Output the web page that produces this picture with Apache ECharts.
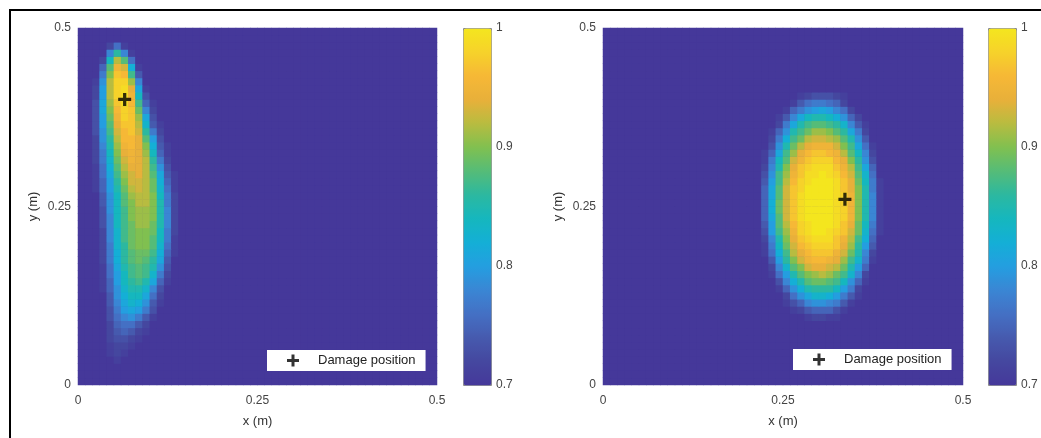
<!DOCTYPE html>
<html>
<head>
<meta charset="utf-8">
<script src="https://cdn.jsdelivr.net/npm/echarts@6/dist/echarts.min.js"></script>
<style>
  html, body { margin: 0; padding: 0; background: #fff; }
  #chart { width: 1041px; height: 438px; }
</style>
</head>
<body>
<div id="chart"></div>
<script>
// plate is 0.5 m square, sampled on a 50 x 50 grid (0.01 m cells)
const cellCount = 50
const background = 0.7

// left map: rows from y index 47 downwards, columns from x index 2
const leftRowTop = 47
const leftCol0 = 2
const leftField = [
  [0.70,0.70,0.72,0.76,0.71,0.70,0.70,0.70,0.70,0.70,0.70,0.70,0.70],
  [0.70,0.70,0.78,0.86,0.78,0.71,0.70,0.70,0.70,0.70,0.70,0.70,0.70],
  [0.70,0.72,0.84,0.92,0.88,0.76,0.70,0.70,0.70,0.70,0.70,0.70,0.70],
  [0.70,0.75,0.88,0.95,0.93,0.82,0.71,0.70,0.70,0.70,0.70,0.70,0.70],
  [0.70,0.77,0.90,0.97,0.96,0.87,0.74,0.70,0.70,0.70,0.70,0.70,0.70],
  [0.71,0.79,0.92,0.98,0.98,0.91,0.78,0.70,0.70,0.70,0.70,0.70,0.70],
  [0.72,0.80,0.92,0.98,0.99,0.94,0.81,0.71,0.70,0.70,0.70,0.70,0.70],
  [0.72,0.80,0.92,0.98,0.99,0.95,0.84,0.73,0.70,0.70,0.70,0.70,0.70],
  [0.73,0.81,0.91,0.97,0.99,0.96,0.87,0.75,0.71,0.70,0.70,0.70,0.70],
  [0.73,0.81,0.90,0.96,0.98,0.97,0.89,0.78,0.72,0.70,0.70,0.70,0.70],
  [0.73,0.80,0.89,0.95,0.98,0.97,0.91,0.81,0.73,0.70,0.70,0.70,0.70],
  [0.73,0.80,0.88,0.94,0.97,0.97,0.92,0.83,0.74,0.71,0.70,0.70,0.70],
  [0.73,0.79,0.87,0.93,0.96,0.97,0.93,0.86,0.77,0.72,0.70,0.70,0.70],
  [0.72,0.79,0.86,0.92,0.96,0.96,0.94,0.88,0.80,0.73,0.70,0.70,0.70],
  [0.72,0.78,0.85,0.91,0.95,0.96,0.94,0.90,0.82,0.74,0.71,0.70,0.70],
  [0.72,0.77,0.84,0.90,0.94,0.95,0.94,0.91,0.84,0.75,0.71,0.70,0.70],
  [0.72,0.77,0.83,0.89,0.93,0.95,0.94,0.92,0.86,0.77,0.72,0.70,0.70],
  [0.71,0.76,0.82,0.88,0.92,0.94,0.94,0.92,0.87,0.79,0.73,0.70,0.70],
  [0.71,0.76,0.81,0.87,0.91,0.93,0.94,0.92,0.88,0.81,0.74,0.71,0.70],
  [0.71,0.75,0.80,0.86,0.90,0.93,0.93,0.92,0.89,0.82,0.75,0.71,0.70],
  [0.71,0.75,0.80,0.85,0.89,0.92,0.93,0.92,0.89,0.83,0.76,0.71,0.70],
  [0.70,0.74,0.79,0.84,0.88,0.91,0.92,0.92,0.90,0.84,0.77,0.72,0.70],
  [0.70,0.74,0.79,0.84,0.88,0.90,0.92,0.92,0.90,0.85,0.77,0.72,0.70],
  [0.70,0.73,0.79,0.84,0.87,0.90,0.91,0.91,0.90,0.85,0.78,0.72,0.70],
  [0.70,0.73,0.78,0.84,0.87,0.90,0.91,0.91,0.90,0.85,0.78,0.72,0.70],
  [0.70,0.73,0.78,0.84,0.87,0.89,0.91,0.91,0.89,0.85,0.78,0.72,0.70],
  [0.70,0.72,0.78,0.83,0.87,0.89,0.90,0.90,0.89,0.84,0.77,0.72,0.70],
  [0.70,0.72,0.78,0.83,0.87,0.89,0.90,0.90,0.88,0.84,0.77,0.71,0.70],
  [0.70,0.72,0.77,0.83,0.86,0.89,0.90,0.90,0.88,0.83,0.76,0.71,0.70],
  [0.70,0.72,0.77,0.82,0.86,0.88,0.89,0.89,0.87,0.82,0.75,0.71,0.70],
  [0.70,0.72,0.77,0.82,0.86,0.88,0.89,0.88,0.86,0.81,0.74,0.70,0.70],
  [0.70,0.71,0.76,0.81,0.85,0.87,0.88,0.87,0.85,0.79,0.73,0.70,0.70],
  [0.70,0.71,0.76,0.80,0.84,0.87,0.88,0.87,0.83,0.77,0.72,0.70,0.70],
  [0.70,0.71,0.75,0.80,0.84,0.86,0.87,0.85,0.81,0.75,0.71,0.70,0.70],
  [0.70,0.71,0.75,0.79,0.83,0.85,0.85,0.83,0.78,0.73,0.70,0.70,0.70],
  [0.70,0.70,0.74,0.79,0.82,0.84,0.84,0.81,0.76,0.72,0.70,0.70,0.70],
  [0.70,0.70,0.74,0.78,0.81,0.83,0.82,0.79,0.74,0.71,0.70,0.70,0.70],
  [0.70,0.70,0.73,0.77,0.80,0.81,0.80,0.77,0.73,0.70,0.70,0.70,0.70],
  [0.70,0.70,0.73,0.76,0.78,0.79,0.77,0.74,0.71,0.70,0.70,0.70,0.70],
  [0.70,0.70,0.72,0.75,0.76,0.76,0.74,0.72,0.70,0.70,0.70,0.70,0.70],
  [0.70,0.70,0.72,0.74,0.75,0.74,0.72,0.71,0.70,0.70,0.70,0.70,0.70],
  [0.70,0.70,0.72,0.73,0.73,0.72,0.71,0.70,0.70,0.70,0.70,0.70,0.70],
  [0.70,0.70,0.71,0.72,0.72,0.71,0.70,0.70,0.70,0.70,0.70,0.70,0.70],
  [0.70,0.70,0.71,0.72,0.71,0.70,0.70,0.70,0.70,0.70,0.70,0.70,0.70],
  [0.70,0.70,0.70,0.71,0.70,0.70,0.70,0.70,0.70,0.70,0.70,0.70,0.70]
]

// right map: rows from y index 40 downwards, columns from x index 21
const rightRowTop = 40
const rightCol0 = 21
const rightField = [
  [0.70,0.70,0.70,0.70,0.70,0.70,0.71,0.72,0.73,0.73,0.73,0.72,0.71,0.70,0.70,0.70,0.70,0.70],
  [0.70,0.70,0.70,0.70,0.70,0.71,0.74,0.76,0.77,0.77,0.76,0.75,0.72,0.70,0.70,0.70,0.70,0.70],
  [0.70,0.70,0.70,0.70,0.71,0.75,0.77,0.79,0.80,0.81,0.80,0.78,0.76,0.72,0.70,0.70,0.70,0.70],
  [0.70,0.70,0.70,0.71,0.74,0.78,0.81,0.84,0.85,0.85,0.84,0.82,0.79,0.75,0.72,0.70,0.70,0.70],
  [0.70,0.70,0.70,0.72,0.77,0.81,0.85,0.87,0.88,0.88,0.87,0.86,0.83,0.78,0.74,0.71,0.70,0.70],
  [0.70,0.70,0.71,0.75,0.79,0.85,0.87,0.89,0.91,0.91,0.90,0.88,0.86,0.81,0.77,0.72,0.70,0.70],
  [0.70,0.70,0.72,0.77,0.82,0.87,0.89,0.92,0.93,0.93,0.92,0.91,0.88,0.85,0.79,0.74,0.70,0.70],
  [0.70,0.70,0.73,0.79,0.85,0.89,0.92,0.94,0.95,0.95,0.95,0.93,0.90,0.87,0.81,0.76,0.71,0.70],
  [0.70,0.71,0.75,0.81,0.87,0.91,0.94,0.96,0.97,0.97,0.96,0.95,0.92,0.88,0.84,0.78,0.72,0.70],
  [0.70,0.71,0.77,0.84,0.88,0.93,0.95,0.97,0.98,0.98,0.98,0.96,0.94,0.90,0.86,0.79,0.73,0.70],
  [0.70,0.72,0.78,0.85,0.90,0.94,0.97,0.98,0.99,0.99,0.99,0.97,0.95,0.92,0.87,0.81,0.75,0.70],
  [0.70,0.73,0.79,0.87,0.91,0.95,0.97,0.99,0.99,1.00,0.99,0.98,0.96,0.93,0.88,0.83,0.76,0.70],
  [0.70,0.74,0.80,0.87,0.92,0.96,0.98,0.99,1.00,1.00,1.00,0.99,0.97,0.94,0.89,0.84,0.77,0.71],
  [0.70,0.75,0.81,0.88,0.93,0.97,0.98,1.00,1.00,1.00,1.00,0.99,0.97,0.94,0.90,0.85,0.77,0.71],
  [0.70,0.75,0.81,0.88,0.93,0.97,0.99,1.00,1.00,1.00,1.00,0.99,0.98,0.95,0.90,0.85,0.78,0.71],
  [0.70,0.75,0.82,0.89,0.93,0.97,0.99,1.00,1.00,1.00,1.00,0.99,0.98,0.95,0.90,0.85,0.78,0.71],
  [0.70,0.75,0.82,0.89,0.93,0.97,0.99,1.00,1.00,1.00,1.00,0.99,0.98,0.95,0.90,0.85,0.78,0.71],
  [0.70,0.75,0.81,0.88,0.93,0.97,0.99,1.00,1.00,1.00,1.00,0.99,0.98,0.95,0.90,0.85,0.78,0.71],
  [0.70,0.74,0.80,0.88,0.92,0.96,0.98,0.99,1.00,1.00,1.00,0.99,0.97,0.94,0.89,0.84,0.77,0.71],
  [0.70,0.73,0.80,0.87,0.91,0.95,0.98,0.99,1.00,1.00,0.99,0.98,0.97,0.93,0.89,0.83,0.76,0.71],
  [0.70,0.72,0.78,0.85,0.90,0.94,0.97,0.98,0.99,0.99,0.99,0.97,0.95,0.92,0.87,0.82,0.75,0.70],
  [0.70,0.71,0.77,0.84,0.89,0.93,0.96,0.97,0.98,0.98,0.98,0.97,0.94,0.91,0.86,0.80,0.74,0.70],
  [0.70,0.71,0.76,0.82,0.87,0.92,0.94,0.96,0.97,0.97,0.97,0.95,0.93,0.89,0.85,0.78,0.72,0.70],
  [0.70,0.70,0.74,0.80,0.86,0.90,0.93,0.95,0.96,0.96,0.95,0.94,0.91,0.87,0.83,0.77,0.71,0.70],
  [0.70,0.70,0.72,0.78,0.83,0.88,0.90,0.93,0.94,0.94,0.93,0.92,0.89,0.85,0.80,0.75,0.70,0.70],
  [0.70,0.70,0.71,0.76,0.80,0.85,0.88,0.90,0.91,0.92,0.91,0.89,0.87,0.83,0.78,0.72,0.70,0.70],
  [0.70,0.70,0.70,0.73,0.78,0.82,0.85,0.88,0.89,0.89,0.88,0.87,0.84,0.79,0.75,0.71,0.70,0.70],
  [0.70,0.70,0.70,0.71,0.75,0.79,0.82,0.85,0.86,0.86,0.86,0.84,0.80,0.77,0.72,0.70,0.70,0.70],
  [0.70,0.70,0.70,0.70,0.72,0.76,0.79,0.81,0.83,0.83,0.82,0.80,0.77,0.74,0.71,0.70,0.70,0.70],
  [0.70,0.70,0.70,0.70,0.71,0.73,0.75,0.78,0.79,0.79,0.78,0.77,0.74,0.71,0.70,0.70,0.70,0.70],
  [0.70,0.70,0.70,0.70,0.70,0.71,0.72,0.74,0.75,0.75,0.75,0.73,0.71,0.70,0.70,0.70,0.70,0.70],
  [0.70,0.70,0.70,0.70,0.70,0.70,0.70,0.71,0.72,0.72,0.71,0.71,0.70,0.70,0.70,0.70,0.70,0.70]
]

// damage positions (x, y) in metres
const leftDamage = [0.065, 0.40]
const rightDamage = [0.336, 0.26]

const plateTicks = [0, 0.25, 0.5]
const colorTicks = [0.7, 0.8, 0.9, 1]

// colour map, 0.70 .. 1.00
const parula = [
  '#45389a', '#45479f', '#465aae', '#4470c4', '#3a86d4', '#249ee0',
  '#14afd6', '#15b7be', '#2cb8a0', '#55bc78', '#80c050', '#b8bc40',
  '#e8b03a', '#f6b836', '#f6d22a', '#f4e61e'
]

const plusIcon = 'path://M4.5,0H7.5V4.5H12V7.5H7.5V12H4.5V7.5H0V4.5H4.5Z'
const font = 'Liberation Sans, Arial, sans-serif'

const toCells = (rows, rowTop, col0) => {
  const grid = []
  for (let j = 0; j < cellCount; j++) grid.push(new Array(cellCount).fill(background))
  rows.forEach((row, k) => row.forEach((v, c) => { grid[rowTop - k][col0 + c] = v }))
  const cells = []
  grid.forEach((row, j) => row.forEach((v, i) => cells.push([i, j, v])))
  return cells
}

const cellIds = Array.from({ length: cellCount }, (_, i) => i)

const hiddenCat = (grid, pos) => ({
  type: 'category', gridIndex: grid, data: cellIds, show: false, position: pos
})

const plateAxis = (grid, dim) => ({
  type: 'value', gridIndex: grid, min: plateTicks[0], max: plateTicks[2],
  interval: plateTicks[1],
  position: dim === 'x' ? 'bottom' : 'left',
  name: dim === 'x' ? 'x (m)' : 'y (m)',
  nameLocation: 'middle',
  nameGap: dim === 'x' ? 30 : 38,
  nameTextStyle: { color: '#333', fontSize: 13, fontFamily: font },
  axisLine: { show: false },
  axisTick: { show: false },
  splitLine: { show: false },
  axisLabel: { color: '#444', fontSize: 12, fontFamily: font, margin: dim === 'x' ? 10 : 7 },
  z: 5
})

const barAxis = (grid) => ({
  type: 'value', gridIndex: grid, position: 'right',
  min: colorTicks[0], max: colorTicks[3], interval: 0.1,
  axisLine: { show: false },
  axisTick: { show: false },
  splitLine: { show: false },
  axisLabel: { color: '#444', fontSize: 12, fontFamily: font, margin: 5 },
  z: 10
})

const colorBar = (series, left) => ({
  type: 'continuous', seriesIndex: series, min: 0.7, max: 1,
  left: left, top: 28, itemWidth: 28, itemHeight: 357,
  padding: 0, calculable: false, hoverLink: false, text: null,
  borderColor: '#8a8a8a', borderWidth: 1,
  inRange: { color: parula }
})

const legendBox = (left, top) => ({
  left: left, top: top, data: ['Damage position'], selectedMode: false,
  icon: plusIcon, itemWidth: 12, itemHeight: 12,
  backgroundColor: '#fff', padding: [4, 10, 4, 20],
  textStyle: { color: '#222', fontSize: 13, fontFamily: font, padding: [0, 0, 0, 14] }
})

const chart = echarts.init(document.getElementById('chart'))
chart.setOption({
  animation: false,
  textStyle: { fontFamily: font },
  grid: [
    { left: 78, top: 28, width: 359, height: 357, show: true, backgroundColor: parula[0], borderWidth: 0 },
    { left: 603, top: 28, width: 360, height: 357, show: true, backgroundColor: parula[0], borderWidth: 0 },
    { left: 463, top: 28, width: 28, height: 357 },
    { left: 988, top: 28, width: 28, height: 357 }
  ],
  // value axes first so they take the bottom / left slots
  xAxis: [
    plateAxis(0, 'x'), hiddenCat(0, 'top'),
    plateAxis(1, 'x'), hiddenCat(1, 'top'),
    { type: 'value', gridIndex: 2, show: false },
    { type: 'value', gridIndex: 3, show: false }
  ],
  yAxis: [
    plateAxis(0, 'y'), hiddenCat(0, 'right'),
    plateAxis(1, 'y'), hiddenCat(1, 'right'),
    barAxis(2), barAxis(3)
  ],
  visualMap: [colorBar(0, 463), colorBar(2, 988)],
  legend: [legendBox(267, 350), legendBox(793, 349)],
  series: [
    {
      type: 'heatmap', xAxisIndex: 1, yAxisIndex: 1,
      data: toCells(leftField, leftRowTop, leftCol0),
      progressive: 0, itemStyle: { borderWidth: 0 }, emphasis: { disabled: true }
    },
    {
      type: 'scatter', name: 'Damage position', xAxisIndex: 0, yAxisIndex: 0,
      data: [leftDamage], symbol: plusIcon, symbolSize: 13,
      itemStyle: { color: '#000' }, z: 6
    },
    {
      type: 'heatmap', xAxisIndex: 3, yAxisIndex: 3,
      data: toCells(rightField, rightRowTop, rightCol0),
      progressive: 0, itemStyle: { borderWidth: 0 }, emphasis: { disabled: true }
    },
    {
      type: 'scatter', name: 'Damage position', xAxisIndex: 2, yAxisIndex: 2,
      data: [rightDamage], symbol: plusIcon, symbolSize: 13,
      itemStyle: { color: '#000' }, z: 6
    }
  ],
  graphic: [
    {
      type: 'polyline', silent: true, z: 20,
      shape: { points: [[10, 438], [10, 10], [1041, 10]] },
      style: { stroke: '#000', lineWidth: 2, fill: null }
    }
  ]
})
</script>
</body>
</html>
